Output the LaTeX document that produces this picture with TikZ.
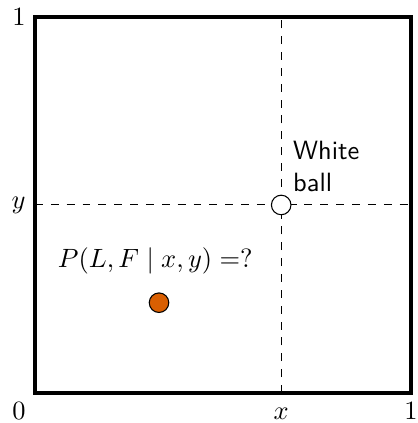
\documentclass[tikz,border=0pt]{standalone}
\usetikzlibrary{positioning}
\definecolor{ballorange}{RGB}{217,95,2}

\begin{document}
\begin{tikzpicture}[x=5cm,y=5cm,
    ball/.style={circle,draw,inner sep=0pt,minimum size=0.26cm},
    axlabel/.style={text height=1.5ex}]
  \useasboundingbox (-0.465cm,-0.40cm) rectangle (5.093cm,5.226cm);
  \coordinate (origin) at (0,0);
  \coordinate (corner) at (1,1);
  \coordinate (wpos) at (0.655,0.5);
  % position of the white ball
  \draw[dashed] (wpos |- origin) -- (wpos |- corner);
  \draw[dashed] (wpos -| origin) -- (wpos -| corner);
  \draw[ultra thick] (origin) rectangle (corner);
  \node[ball,fill=white] (white) at (wpos) {};
  \node[anchor=south west,align=left,font=\sffamily,xshift=1pt,yshift=-2.5pt] (whitelab) at (white.north) {White\\ball};
  \node[ball,fill=ballorange] (orange) at (0.33,0.24) {};
  \node (question) at (0.32,0.35) {$P(L,F \mid x,y) =?$};
  % axis labels
  \node[left] (ytop) at (0,1) {$1$};
  \node[left] (ylab) at (wpos -| origin) {$y$};
  \node[below left,axlabel] (zero) at (origin) {$0$};
  \node[below,axlabel] (xlab) at (wpos |- origin) {$x$};
  \node[below,axlabel] (xone) at (1,0) {$1$};
\end{tikzpicture}
\end{document}
